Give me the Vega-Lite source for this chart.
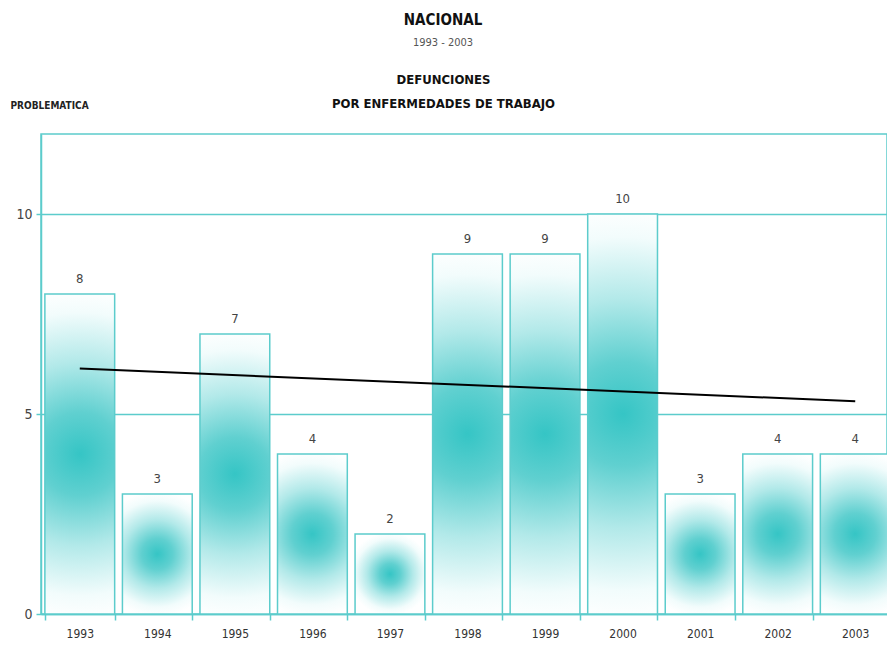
{
  "$schema": "https://vega.github.io/schema/vega-lite/v6.json",
  "autosize": "none",
  "width": 846,
  "height": 480,
  "padding": {"left": 41, "top": 134, "right": 0, "bottom": 32},
  "background": "white",
  "config": {
    "view": {"stroke": "#5ccccc", "strokeWidth": 1.5},
    "font": "DejaVu Sans Condensed, Liberation Sans, sans-serif"
  },
  "title": {
    "text": "NACIONAL",
    "subtitle": "1993 - 2003",
    "fontSize": 15,
    "fontWeight": "bold",
    "color": "#111",
    "subtitleFontSize": 11,
    "subtitleColor": "#555",
    "subtitlePadding": 9,
    "anchor": "middle",
    "dx": -21,
    "offset": 25
  },
  "data": {
    "values": [
      {"year": 1993, "v": 8},
      {"year": 1994, "v": 3},
      {"year": 1995, "v": 7},
      {"year": 1996, "v": 4},
      {"year": 1997, "v": 2},
      {"year": 1998, "v": 9},
      {"year": 1999, "v": 9},
      {"year": 2000, "v": 10},
      {"year": 2001, "v": 3},
      {"year": 2002, "v": 4},
      {"year": 2003, "v": 4}
    ]
  },
  "encoding": {
    "x": {
      "field": "year",
      "type": "ordinal",
      "scale": {"range": [0, 853], "paddingInner": 0.1, "paddingOuter": 0.05}
    },
    "y": {
      "field": "v",
      "type": "quantitative",
      "scale": {"domain": [0, 12], "nice": false}
    }
  },
  "layer": [
    {
      "mark": {
        "type": "bar",
        "stroke": "#5ccccc",
        "strokeWidth": 1.5,
        "fill": {
          "gradient": "radial",
          "x1": 0.5, "y1": 0.5, "r1": 0,
          "x2": 0.5, "y2": 0.5, "r2": 0.52,
          "stops": [
            {"offset": 0, "color": "#35c5c5"},
            {"offset": 0.25, "color": "#60d0d0"},
            {"offset": 0.55, "color": "#b2e9e9"},
            {"offset": 0.85, "color": "#f2fcfc"},
            {"offset": 1, "color": "#ffffff"}
          ]
        }
      },
      "encoding": {
        "x": {
          "field": "year",
          "type": "ordinal",
          "title": null,
          "axis": {
            "orient": "bottom",
            "labelAngle": 0,
            "tickBand": "extent",
            "tickSize": 6,
            "tickColor": "#5ccccc",
            "tickWidth": 1.5,
            "domainColor": "#5ccccc",
            "domainWidth": 1.5,
            "labelColor": "#333",
            "labelFontSize": 12,
            "labelPadding": 8,
            "grid": false
          }
        },
        "y": {
          "field": "v",
          "type": "quantitative",
          "title": "PROBLEMATICA",
          "axis": {
            "values": [0, 5, 10],
            "grid": true,
            "gridColor": "#5ccccc",
            "gridWidth": 1.5,
            "gridOpacity": 1,
            "tickSize": 5,
            "tickColor": "#5ccccc",
            "tickWidth": 1.5,
            "domainColor": "#5ccccc",
            "domainWidth": 1.5,
            "labelColor": "#444",
            "labelFontSize": 14,
            "labelPadding": 4,
            "titleAngle": 0,
            "titleX": -31,
            "titleY": -26,
            "titleAlign": "left",
            "titleBaseline": "alphabetic",
            "titleFontSize": 10,
            "titleFontWeight": "bold",
            "titleColor": "#222"
          }
        }
      }
    },
    {
      "mark": {"type": "text", "baseline": "bottom", "dy": -8, "fontSize": 13, "color": "#444"},
      "encoding": {
        "text": {"field": "v", "type": "quantitative"},
        "x": {
          "field": "year",
          "type": "ordinal",
          "axis": {
            "orient": "top",
            "labels": false,
            "ticks": false,
            "domain": false,
            "grid": false,
            "title": ["DEFUNCIONES", "POR ENFERMEDADES DE TRABAJO"],
            "titleFontSize": 13,
            "titleFontWeight": "bold",
            "titleColor": "#111",
            "titleLineHeight": 24,
            "titleX": 402,
            "titleY": -51,
            "titleAlign": "center",
            "titleBaseline": "alphabetic"
          }
        }
      }
    },
    {
      "transform": [{"regression": "v", "on": "year"}],
      "mark": {"type": "line", "color": "#000", "strokeWidth": 2},
      "encoding": {
        "x": {"field": "year", "type": "ordinal", "axis": null}
      }
    }
  ],
  "resolve": {"axis": {"x": "independent"}}
}
